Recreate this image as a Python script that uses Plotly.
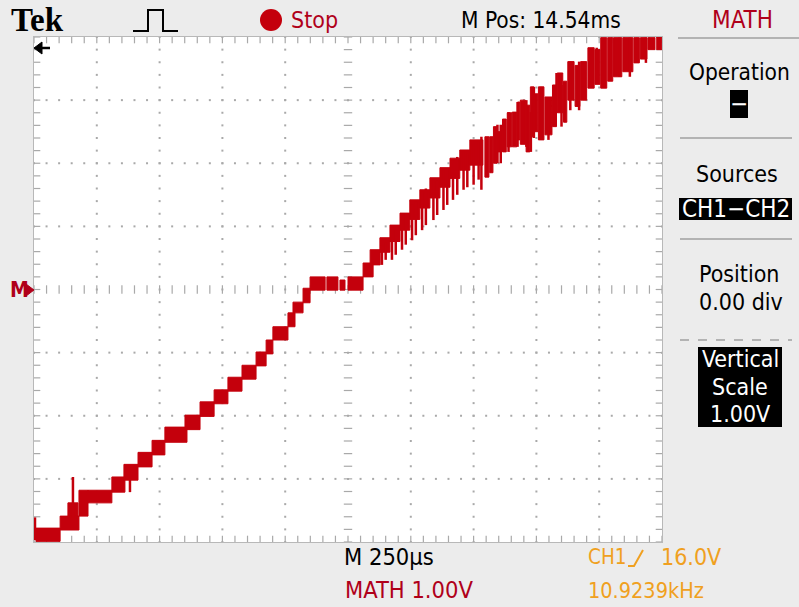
import numpy as np
import plotly.graph_objects as go

# ---- waveform data: MATH = CH1 - CH2, 250 us/div, 1.00 V/div ----
# solid envelope blocks of the stepped ramp: start/end time (us), low/high level (V)
blk_t0 = [8, 104, 135, 179, 215, 310, 358, 414, 470, 521, 601, 661, 717, 772, 828, 884, 924,
          951, 1011, 1031, 1071, 1099, 1166, 1218, 1250, 1310, 1338,
          1377, 1417, 1457, 1496, 1536, 1576, 1616, 1656, 1695, 1735,
          1795, 1814, 1829, 1846, 1865, 1884, 1904, 1925, 1936, 1959, 1976, 1993, 2008, 2034,
          2064, 2083, 2108, 2125, 2154, 2176, 2205, 2233, 2256, 2284, 2307, 2344, 2388, 2414,
          2444, 2479]
blk_t1 = [104, 179, 175, 215, 310, 362, 414, 470, 521, 609, 661, 717, 772, 828, 884, 924, 951,
          1011, 1039, 1071, 1099, 1159, 1210, 1238, 1310, 1350, 1378,
          1417, 1457, 1496, 1536, 1576, 1616, 1656, 1695, 1735, 1787,
          1811, 1827, 1843, 1863, 1880, 1902, 1922, 1934, 1956, 1974, 1990, 2006, 2030, 2062,
          2080, 2105, 2121, 2150, 2173, 2200, 2230, 2253, 2280, 2304, 2340, 2384, 2410, 2440,
          2472, 2499]
blk_lo = [-3.99, -3.81, -3.59, -3.59, -3.38, -3.21, -3.02, -2.81, -2.62, -2.42, -2.22, -2.01,
          -1.81, -1.61, -1.42, -1.21, -1.02, -0.80, -0.59, -0.37, -0.21, -0.01, -0.01, -0.01,
          -0.01, 0.20, 0.39,
          0.59, 0.76, 0.94, 1.11, 1.29, 1.45, 1.62, 1.76, 1.89, 1.97,
          1.78, 1.85, 2.00, 2.18, 2.18, 2.26, 2.26, 2.37, 2.30, 2.18, 2.42, 2.50, 2.37, 2.45,
          2.58, 2.80, 2.65, 3.00, 2.90, 3.00, 3.19, 3.25, 3.19, 3.30, 3.37, 3.45, 3.59, 3.65,
          3.80, 3.80]
blk_hi = [-3.78, -3.59, -3.38, -3.18, -3.18, -2.97, -2.77, -2.58, -2.39, -2.18, -1.99, -1.78,
          -1.59, -1.39, -1.20, -0.99, -0.80, -0.59, -0.37, -0.20, 0.02, 0.20, 0.20, 0.15,
          0.20, 0.42, 0.63,
          0.82, 1.02, 1.21, 1.42, 1.58, 1.77, 1.93, 2.08, 2.21, 2.37,
          2.42, 2.42, 2.58, 2.50, 2.70, 2.80, 2.81, 2.97, 3.00, 2.92, 3.21, 3.10, 3.21, 3.05,
          3.24, 3.43, 3.30, 3.61, 3.55, 3.61, 3.83, 3.80, 3.99, 3.99, 3.99, 3.99, 3.99, 3.99,
          3.99, 4.00]

# narrow glitches captured by peak detect: time (us), low/high level (V)
spk_t = [4, 155, 382,
         1385, 1400, 1425, 1440, 1465, 1480, 1505, 1520, 1545, 1560, 1590, 1605, 1630, 1645,
         1668, 1685, 1710, 1725, 1750, 1770, 1781,
         1845, 1858, 1889, 1925, 1960, 1978, 1990, 2020, 2048, 2080, 2100, 2135,
         2170, 2190, 2240, 2330, 2372, 2436]
spk_lo = [-3.97, -3.61, -3.21,
          0.39, 0.47, 0.47, 0.55, 0.63, 0.71, 0.78, 0.86, 0.94, 1.02, 1.10, 1.18, 1.26, 1.34,
          1.42, 1.50, 1.58, 1.62, 1.66, 1.74, 1.58,
          2.00, 2.00, 2.18, 2.26, 2.26, 2.18, 2.40, 2.37, 2.37, 2.80, 2.58, 2.84,
          2.84, 3.00, 3.43, 3.37, 3.37, 3.59]
spk_hi = [-3.61, -2.97, -2.99,
          0.70, 0.75, 1.00, 0.95, 1.15, 1.20, 1.35, 1.40, 1.55, 1.60, 1.74, 1.72, 1.90, 1.92,
          2.05, 2.10, 2.20, 2.15, 2.30, 2.35, 2.42,
          2.61, 2.61, 2.81, 2.97, 3.00, 2.81, 3.21, 3.21, 3.00, 3.43, 3.24, 3.61,
          3.61, 3.43, 3.83, 3.99, 3.99, 3.99]

T_DIV, V_DIV, N_HDIV, N_VDIV = 250, 1.0, 10, 8
T_MAX = T_DIV * N_HDIV
V_HALF = V_DIV * N_VDIV / 2

TRACE = "#c4000c"
GRID = "#a9a9a9"
BG = "#ececec"
RED_TXT = "#b0001a"
ORANGE = "#f0a020"
FONT = "Liberation Sans Narrow, DejaVu Sans Condensed, Roboto, sans-serif"

# screen geometry (pixels) of the graticule area
W, H = 799, 607
GX0, GX1, GY0, GY1 = 34, 662, 37, 542


def px(x):
    return (x - GX0) / (GX1 - GX0)


def py(y):
    return (GY1 - y) / (GY1 - GY0)


fig = go.Figure()

# ---- graticule ----
minor_t = np.arange(0, T_MAX + 1, T_DIV / 5)
minor_v = np.arange(-V_HALF, V_HALF + 1e-9, V_DIV / 5)
dx, dy = [], []
for k in range(1, N_HDIV):
    if k == N_HDIV // 2:
        continue
    dx += [k * T_DIV] * len(minor_v)
    dy += list(minor_v)
for j in range(1, N_VDIV):
    if j == N_VDIV // 2:
        continue
    v = -V_HALF + j * V_DIV
    dx += list(minor_t)
    dy += [v] * len(minor_t)
fig.add_trace(go.Scatter(x=dx, y=dy, mode="markers", hoverinfo="skip",
                         marker=dict(symbol="square", size=2, color=GRID, line=dict(width=0))))


# tick marks along centre lines and edges
def ticks(xs, ys, sym, size):
    fig.add_trace(go.Scatter(x=xs, y=ys, mode="markers", hoverinfo="skip",
                             marker=dict(symbol=sym, size=size, color=GRID,
                                         line=dict(width=1.2, color=GRID))))


ticks(list(minor_t), [0] * len(minor_t), "line-ns", 6)
ticks([T_MAX / 2] * len(minor_v), list(minor_v), "line-ew", 6)
ticks(list(minor_t) * 2, [V_HALF] * len(minor_t) + [-V_HALF] * len(minor_t), "line-ns", 9)
ticks([0] * len(minor_v) + [T_MAX] * len(minor_v), list(minor_v) * 2, "line-ew", 9)

# ---- waveform ----
bx, by = [], []
for t0, t1, lo, hi in zip(blk_t0, blk_t1, blk_lo, blk_hi):
    bx += [t0, t1, t1, t0, t0, None]
    by += [lo, lo, hi, hi, lo, None]
fig.add_trace(go.Scatter(x=bx, y=by, mode="lines", fill="toself", fillcolor=TRACE,
                         line=dict(color=TRACE, width=1), hoverinfo="skip"))

sx, sy = [], []
for t, lo, hi in zip(spk_t, spk_lo, spk_hi):
    sx += [t, t, None]
    sy += [lo, hi, None]
fig.add_trace(go.Scatter(x=sx, y=sy, mode="lines", line=dict(color=TRACE, width=2.5),
                         hoverinfo="skip"))

# ---- screen furniture ----
shapes = []
ann = []


def text(x, y, s, color="black", size=24, anchor="left", family=FONT):
    ann.append(dict(x=px(x), y=py(y), xref="paper", yref="paper", text=s, showarrow=False,
                    xanchor=anchor, yanchor="middle",
                    font=dict(family=family, size=size, color=color)))


def pline(points, color, width=2, fill=None):
    d = "M " + " L ".join(f"{px(a)},{py(b)}" for a, b in points)
    if fill:
        d += " Z"
    shapes.append(dict(type="path", xref="paper", yref="paper", path=d,
                       line=dict(color=color, width=width),
                       fillcolor=fill if fill else "rgba(0,0,0,0)"))


def rect(x0, y0, x1, y1, color):
    shapes.append(dict(type="rect", xref="paper", yref="paper", x0=px(x0), x1=px(x1),
                       y0=py(y1), y1=py(y0), line=dict(width=0), fillcolor=color, layer="below"))


def hline(x0, x1, y, color="#a0a0a0", dash=None):
    shapes.append(dict(type="line", xref="paper", yref="paper", x0=px(x0), x1=px(x1),
                       y0=py(y), y1=py(y), line=dict(color=color, width=1.5, dash=dash)))


# top bar
text(9, 20, "<b>Tek</b>", size=33, family="Liberation Serif, DejaVu Serif, serif")
pline([(133, 31), (148, 31), (148, 10), (163, 10), (163, 31), (178, 31)], "black", 2)
shapes.append(dict(type="circle", xref="paper", yref="paper", x0=px(260), x1=px(282),
                   y0=py(31), y1=py(9), fillcolor=TRACE, line=dict(width=0)))
text(289, 20, "Stop", RED_TXT, 23)
text(459, 20, "M Pos: 14.54ms", "black", 22.5)
text(742, 20, "MATH", RED_TXT, 24, "center")

# right menu
hline(678, 799, 38)
text(739, 72, "Operation", "black", 22.5, "center")
rect(730, 90, 748, 118, "black")
text(739, 104, "−", "white", 24, "center")
hline(680, 792, 138)
text(737, 174, "Sources", "black", 23, "center")
rect(679, 198, 792, 220, "black")
text(736, 209, "CH1−CH2", "white", 24, "center")
hline(680, 792, 239)
text(739, 274, "Position", "black", 23, "center")
text(741, 302, "0.00 div", "black", 23, "center")
hline(680, 792, 340, dash="dash")
rect(698, 347, 782, 427, "black")
text(740, 359, "Vertical", "white", 23, "center")
text(740, 387, "Scale", "white", 23, "center")
text(740, 414, "1.00V", "white", 23, "center")

# bottom readouts
text(342, 557, "M 250µs", "black", 23.5)
text(343, 590, "MATH 1.00V", RED_TXT, 23.5)
text(586, 557, "CH1", ORANGE, 20.5)
pline([(628, 566), (634, 566), (643, 550)], ORANGE, 2)
text(723, 557, "16.0V", ORANGE, 23, "right")
text(586, 590, "10.9239kHz", ORANGE, 21.5)

# ground marker and trigger position arrow
text(8, 290, "<b>M</b>", RED_TXT, 21)
pline([(26, 284), (34, 290), (26, 296)], RED_TXT, 1, fill=RED_TXT)
pline([(34, 48), (42, 42), (42, 54)], "black", 1, fill="black")
pline([(41, 48), (50, 48)], "black", 2.5)

fig.update_layout(
    width=W, height=H,
    margin=dict(l=GX0, r=W - GX1, t=GY0, b=H - GY1, pad=0),
    paper_bgcolor=BG, plot_bgcolor="white",
    showlegend=False,
    shapes=shapes, annotations=ann,
    xaxis=dict(range=[0, T_MAX], showgrid=False, zeroline=False, showticklabels=False,
               ticks="", showline=True, mirror=True, linecolor="#b8b8b8", linewidth=1,
               fixedrange=True),
    yaxis=dict(range=[-V_HALF, V_HALF], showgrid=False, zeroline=False, showticklabels=False,
               ticks="", showline=True, mirror=True, linecolor="#b8b8b8", linewidth=1,
               fixedrange=True),
)

fig.write_html("out.html", config={"displayModeBar": False})
